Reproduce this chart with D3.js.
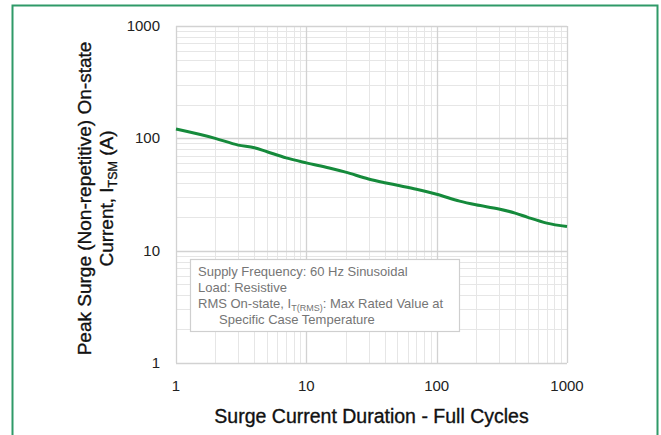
<!DOCTYPE html>
<html>
<head>
<meta charset="utf-8">
<script src="https://cdn.jsdelivr.net/npm/d3@7"></script>
<style>
  html, body { margin: 0; padding: 0; background: #fff; }
  svg { display: block; font-family: "Liberation Sans", Arial, sans-serif; }
</style>
</head>
<body>
<svg id="chart" width="661" height="435"></svg>
<script>
// surge current curve
var cycles = [1, 2, 3, 4, 5, 7, 10, 15, 20, 30, 40, 50, 70, 100, 150, 200, 300, 400, 500, 700, 1000];
var itsm_values = [121, 100, 87, 82.5, 76, 67, 60.5, 54.5, 50, 43.5, 40.3, 38.2, 35.2, 31.8, 27.6, 25.6, 23.5, 21.6, 19.8, 17.6, 16.4];

var x_ticks = [1, 10, 100, 1000];
var y_ticks = [1, 10, 100, 1000];

var note_lines = [
    "Supply Frequency: 60 Hz Sinusoidal",
    "Load: Resistive"
];

var svg = d3.select("#chart");

// green frame round the figure (bottom edge runs off the picture)
svg.append("path")
    .attr("d", "M12.5,440 L12.5,5.5 L657.5,5.5 L657.5,440")
    .attr("fill", "none")
    .attr("stroke", "#2f9a68")
    .attr("stroke-width", 2);

var plot_left = 176, plot_right = 567, plot_top = 26, plot_bottom = 363;

var x_scale = d3.scaleLog().domain([1, 1000]).range([plot_left, plot_right]);
var y_scale = d3.scaleLog().domain([1, 1000]).range([plot_bottom, plot_top]);

var grid = svg.append("g");

// minor grid, 2..9 in every decade
var minor_vals = [];
[1, 10, 100].forEach(function (dec) {
    for (var k = 2; k <= 9; k++) minor_vals.push(dec * k);
});

grid.selectAll(".vminor").data(minor_vals).enter().append("line")
    .attr("x1", function (d) { return Math.round(x_scale(d)) + 0.5; })
    .attr("x2", function (d) { return Math.round(x_scale(d)) + 0.5; })
    .attr("y1", plot_top).attr("y2", plot_bottom)
    .attr("stroke", "#e6e6e6").attr("stroke-width", 1);

grid.selectAll(".hminor").data(minor_vals).enter().append("line")
    .attr("y1", function (d) { return Math.round(y_scale(d)) + 0.5; })
    .attr("y2", function (d) { return Math.round(y_scale(d)) + 0.5; })
    .attr("x1", plot_left).attr("x2", plot_right)
    .attr("stroke", "#e6e6e6").attr("stroke-width", 1);

// major grid at the decades
grid.selectAll(".vmajor").data(x_ticks).enter().append("line")
    .attr("x1", function (d) { return Math.round(x_scale(d)) + 0.5; })
    .attr("x2", function (d) { return Math.round(x_scale(d)) + 0.5; })
    .attr("y1", plot_top).attr("y2", plot_bottom)
    .attr("stroke", "#d2d2d2").attr("stroke-width", 1.3);

grid.selectAll(".hmajor").data(y_ticks).enter().append("line")
    .attr("y1", function (d) { return Math.round(y_scale(d)) + 0.5; })
    .attr("y2", function (d) { return Math.round(y_scale(d)) + 0.5; })
    .attr("x1", plot_left).attr("x2", plot_right)
    .attr("stroke", "#d2d2d2").attr("stroke-width", 1.3);

// the curve
var line_gen = d3.line()
    .x(function (d, i) { return x_scale(cycles[i]); })
    .y(function (d) { return y_scale(d); })
    .curve(d3.curveMonotoneX);

svg.append("path")
    .datum(itsm_values)
    .attr("d", line_gen)
    .attr("fill", "none")
    .attr("stroke", "#158a3b")
    .attr("stroke-width", 3)
    .attr("stroke-linejoin", "round");

// note box
var note = svg.append("g");
note.append("rect")
    .attr("x", 190.5).attr("y", 259.5)
    .attr("width", 269).attr("height", 72)
    .attr("fill", "#fff")
    .attr("stroke", "#cfcfcf").attr("stroke-width", 1.2);

var note_style = function (t) {
    t.style("font-size", "13px").style("fill", "#757575");
};
note_lines.forEach(function (s, i) {
    note.append("text").attr("x", 198).attr("y", 276 + i * 16).text(s).call(note_style);
});
var rms = note.append("text").attr("x", 198).attr("y", 308).call(note_style);
rms.append("tspan").text("RMS On-state, I");
rms.append("tspan").text("T(RMS)").style("font-size", "9px").attr("dy", 3);
rms.append("tspan").text(": Max Rated Value at").attr("dy", -3);
note.append("text").attr("x", 219).attr("y", 324).text("Specific Case Temperature").call(note_style);

// tick labels
svg.selectAll(".ylab").data(y_ticks).enter().append("text")
    .attr("x", 160)
    .attr("y", function (d) { return y_scale(d) + 5; })
    .attr("text-anchor", "end")
    .style("font-size", "15px").style("fill", "#222")
    .text(function (d) { return d; });

svg.selectAll(".xlab").data(x_ticks).enter().append("text")
    .attr("x", function (d) { return x_scale(d); })
    .attr("y", 391)
    .attr("text-anchor", "middle")
    .style("font-size", "15px").style("fill", "#222")
    .text(function (d) { return d; });

// axis titles
svg.append("text")
    .attr("x", (plot_left + plot_right) / 2)
    .attr("y", 423)
    .attr("text-anchor", "middle")
    .style("font-size", "19.5px").style("fill", "#111")
    .style("stroke", "#111").style("stroke-width", 0.35)
    .text("Surge Current Duration - Full Cycles");

var y_mid = (plot_top + plot_bottom) / 2 + 4;
var ytitle = svg.append("g")
    .attr("transform", "translate(0," + y_mid + ") rotate(-90)")
    .style("font-size", "19px").style("fill", "#111")
    .style("stroke", "#111").style("stroke-width", 0.35);

ytitle.append("text").attr("x", 0).attr("y", 91).attr("text-anchor", "middle")
    .text("Peak Surge (Non-repetitive) On-state");
var yt2 = ytitle.append("text").attr("x", 0).attr("y", 113).attr("text-anchor", "middle");
yt2.append("tspan").text("Current, I");
yt2.append("tspan").text("TSM").style("font-size", "12.5px").attr("dy", 4);
yt2.append("tspan").text(" (A)").attr("dy", -4);
</script>
</body>
</html>
